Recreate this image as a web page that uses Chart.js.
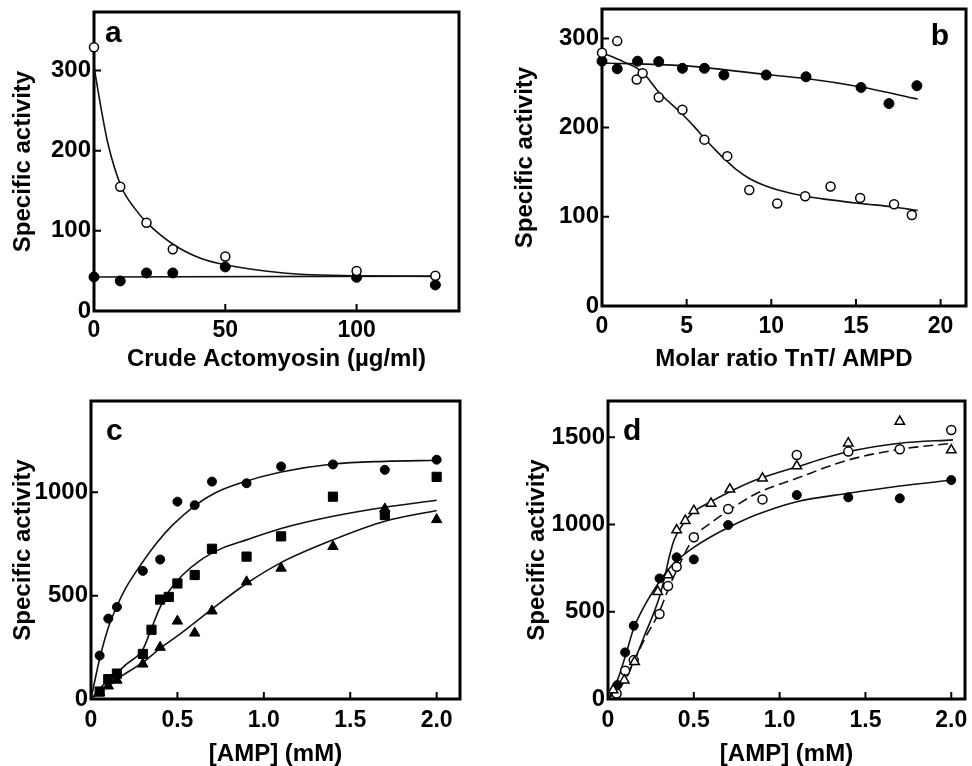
<!DOCTYPE html>
<html lang="en">
<head>
  <meta charset="UTF-8">
  <title>Specific activity panels a-d</title>
  <script src="https://cdn.jsdelivr.net/npm/chart.js"></script>
  <style>
    body { margin: 0; background: #fff; }
    #wrap { position: relative; width: 972px; height: 766px; }
    canvas { position: absolute; }
  </style>
</head>
<body>
<div id="wrap">
  <canvas id="chartA" width="486" height="383" style="left:0;top:0"></canvas>
  <canvas id="chartB" width="486" height="383" style="left:486px;top:0"></canvas>
  <canvas id="chartC" width="486" height="383" style="left:0;top:383px"></canvas>
  <canvas id="chartD" width="486" height="383" style="left:486px;top:383px"></canvas>
</div>
<script>
// ---- panel a : crude actomyosin ----
const aXTicks  = [0, 50, 100];
const aYTicks  = [0, 100, 200, 300];
const aX       = [0, 10, 20, 30, 50, 100, 130];
const aOpen    = [329, 155, 110, 77, 68, 50, 44];
const aFilled  = [42.5, 37.5, 47.5, 47.5, 55, 42, 32.5];
const aFitOpenX   = [0, 2.8, 5.3, 10.4, 15.5, 20.5, 30.7, 40.8, 51, 66, 80, 100, 130];
const aFitOpenY   = [305, 251, 209, 155, 128, 109, 82, 65.5, 57, 49.6, 45.5, 44, 43];
const aFitFilledX = [0, 130];
const aFitFilledY = [42.5, 43.5];

// ---- panel b : molar ratio TnT / AMPD ----
const bXTicks  = [0, 5, 10, 15, 20];
const bYTicks  = [0, 100, 200, 300];
const bFilledX = [0, 0.9, 2.1, 3.35, 4.75, 6.05, 7.2, 9.7, 12.05, 15.3, 16.95, 18.6];
const bFilledY = [274.5, 266, 274.5, 274, 266.5, 266.5, 259, 259, 257, 245, 227, 247];
const bOpenX   = [0, 0.9, 2.05, 2.4, 3.35, 4.75, 6.05, 7.4, 8.7, 10.35, 12, 13.5, 15.25, 17.25, 18.3];
const bOpenY   = [284, 297, 254, 261, 234, 220, 186.5, 168, 130, 115, 123, 134, 121, 114, 102];
const bFitOpenX   = [0, 1.25, 2.4, 3.35, 4.75, 5.5, 6.05, 6.85, 7.4, 8, 8.7, 9.6, 10.4, 12, 13.5, 15.25, 17.25, 18.65];
const bFitOpenY   = [284, 274, 262, 240, 215, 200, 188, 172, 162, 152, 143, 135, 130, 123, 119, 115, 111, 107];
const bFitFilledX = [0, 4.75, 9.7, 12.05, 15.3, 18.65];
const bFitFilledY = [272.5, 269.5, 259.5, 255, 245.5, 232];

// ---- panel c : [AMP] ----
const cXTicks = [0, 0.5, 1, 1.5, 2];
const cYTicks = [0, 500, 1000];
const cCircX = [0.05, 0.1, 0.15, 0.3, 0.4, 0.5, 0.6, 0.7, 0.9, 1.1, 1.4, 1.7, 2.0];
const cCircY = [210, 389, 445, 620, 675, 955, 938, 1052, 1044, 1125, 1135, 1109, 1158];
const cSqX   = [0.05, 0.1, 0.15, 0.3, 0.35, 0.4, 0.45, 0.5, 0.6, 0.7, 0.9, 1.1, 1.4, 1.7, 2.0];
const cSqY   = [36, 96, 123, 218, 335, 481, 494, 559, 600, 727, 689, 787, 979, 890, 1075];
const cTriX  = [0.05, 0.1, 0.15, 0.3, 0.4, 0.5, 0.6, 0.7, 0.9, 1.1, 1.4, 1.7, 2.0];
const cTriY  = [30, 63, 91, 169, 250, 377, 319, 426, 567, 633, 738, 920, 868];
const cFitCircX = [0, 0.05, 0.1, 0.145, 0.2, 0.28, 0.38, 0.47, 0.6, 0.72, 0.86, 1.1, 1.4, 1.7, 2.0];
const cFitCircY = [0, 195, 345, 440, 535, 640, 755, 840, 935, 998, 1044, 1098, 1137, 1150, 1155];
const cFitSqX   = [0, 0.05, 0.1, 0.15, 0.2, 0.3, 0.34, 0.4, 0.45, 0.53, 0.63, 0.76, 0.9, 1.1, 1.4, 1.7, 2.0];
const cFitSqY   = [0, 50, 92, 125, 165, 240, 320, 445, 520, 600, 670, 730, 770, 825, 884, 928, 962];
const cFitTriX  = [0, 0.1, 0.15, 0.3, 0.4, 0.5, 0.6, 0.7, 0.9, 1.1, 1.4, 1.7, 2.0];
const cFitTriY  = [0, 63, 96, 177, 245, 305, 370, 435, 559, 660, 770, 860, 912];

// ---- panel d : [AMP] ----
const dXTicks  = [0, 0.5, 1, 1.5, 2];
const dYTicks  = [0, 500, 1000, 1500];
const dFilledX = [0.055, 0.1, 0.15, 0.3, 0.4, 0.5, 0.7, 1.1, 1.4, 1.7, 2.0];
const dFilledY = [80, 267, 420, 691, 812, 800, 997, 1169, 1156, 1150, 1255];
const dOpenX   = [0.05, 0.1, 0.15, 0.3, 0.35, 0.4, 0.5, 0.7, 0.9, 1.1, 1.4, 1.7, 2.0];
const dOpenY   = [32, 162, 223, 487, 647, 758, 927, 1089, 1144, 1398, 1418, 1431, 1542];
const dTriX    = [0.03, 0.095, 0.155, 0.29, 0.35, 0.4, 0.45, 0.5, 0.6, 0.71, 0.9, 1.1, 1.4, 1.7, 2.0];
const dTriY    = [51, 108, 213, 615, 710, 968, 1022, 1079, 1121, 1202, 1265, 1335, 1466, 1590, 1427];
const dFitTriX = [0, 0.05, 0.1, 0.15, 0.21, 0.3, 0.335, 0.357, 0.385, 0.44, 0.5, 0.6, 0.71, 0.86, 1.1, 1.4, 1.7, 2.01];
const dFitTriY = [0, 70, 127, 213, 357, 586, 720, 815, 911, 1007, 1073, 1131, 1188, 1255, 1331, 1417, 1466, 1485];
const dFitOpenX = [0, 0.055, 0.1, 0.15, 0.21, 0.295, 0.357, 0.404, 0.5, 0.6, 0.71, 0.86, 1.1, 1.4, 1.7, 2.01];
const dFitOpenY = [0, 51, 108, 213, 338, 491, 643, 745, 925, 1010, 1085, 1175, 1265, 1370, 1431, 1466];
const dFitFilledX = [0, 0.055, 0.1, 0.15, 0.21, 0.295, 0.357, 0.404, 0.5, 0.6, 0.71, 0.86, 1.1, 1.4, 1.7, 2.01];
const dFitFilledY = [0, 108, 242, 405, 529, 666, 749, 796, 869, 930, 987, 1054, 1131, 1179, 1221, 1255];

const FONT = "'Liberation Sans', Arial, Helvetica, sans-serif";

function pts(xs, ys) {
  return xs.map((x, i) => ({ x: x, y: ys[i] }));
}

// scatter markers
function marks(xs, ys, style, filled, r) {
  return {
    data: pts(xs, ys),
    showLine: false,
    pointStyle: style,
    pointRadius: r,
    pointBackgroundColor: filled ? '#000' : '#fff',
    pointBorderColor: '#000',
    pointBorderWidth: filled ? 1 : 1.5,
    clip: false
  };
}

// fitted curve, drawn through read-off points
function curve(xs, ys, dashed) {
  return {
    data: pts(xs, ys),
    showLine: true,
    borderColor: '#111',
    borderWidth: 1.6,
    borderDash: dashed ? [10, 5] : [],
    pointRadius: 0,
    cubicInterpolationMode: 'monotone',
    clip: false
  };
}

// box, inward tick marks and the panel letter
const framePlugin = {
  id: 'frame',
  beforeDatasetsDraw(chart, args, opts) {
    const { ctx, chartArea: a, scales: { x, y } } = chart;
    ctx.save();
    ctx.strokeStyle = '#000';
    ctx.lineWidth = 2;
    ctx.beginPath();
    x.ticks.forEach(t => {
      const px = x.getPixelForValue(t.value);
      if (px > a.left + 3 && px < a.right - 3) { ctx.moveTo(px, a.bottom); ctx.lineTo(px, a.bottom - 7); }
    });
    y.ticks.forEach(t => {
      const py = y.getPixelForValue(t.value);
      if (py > a.top + 3 && py < a.bottom - 3) { ctx.moveTo(a.left, py); ctx.lineTo(a.left + 7, py); }
    });
    ctx.stroke();
    ctx.lineWidth = 3;
    ctx.strokeRect(a.left, a.top, a.right - a.left, a.bottom - a.top);
    ctx.fillStyle = '#000';
    ctx.font = 'bold 30px ' + FONT;
    ctx.textAlign = opts.align;
    ctx.textBaseline = 'alphabetic';
    const lx = opts.align === 'right' ? a.right - opts.dx : a.left + opts.dx;
    ctx.fillText(opts.letter, lx, a.top + opts.dy);
    ctx.restore();
  }
};

function fmtX(dec) {
  return v => (v === 0 ? '0' : (dec ? v.toFixed(1) : String(v)));
}

function fixTicks(list) {
  return s => { s.ticks = list.map(v => ({ value: v })); };
}

function makePanel(id, p) {
  return new Chart(document.getElementById(id), {
    type: 'scatter',
    data: { datasets: p.datasets },
    options: {
      responsive: false,
      animation: false,
      events: [],
      layout: { padding: p.pad },
      plugins: {
        legend: { display: false },
        tooltip: { enabled: false },
        frame: p.letter
      },
      scales: {
        x: {
          type: 'linear', min: 0, max: p.xMax,
          grid: { display: false, drawTicks: false },
          border: { display: false },
          afterBuildTicks: fixTicks(p.xTicks),
          ticks: {
            maxRotation: 0, autoSkip: false,
            color: '#000', padding: p.xTickPad,
            font: { family: FONT, size: 23, weight: 'bold' },
            callback: fmtX(p.xDec)
          },
          title: {
            display: true, text: p.xTitle, color: '#000',
            font: { family: FONT, size: 24, weight: 'bold', lineHeight: 1 },
            padding: { top: 0, bottom: p.xTitlePad }
          },
          afterFit: s => { s.height = p.xH; s.paddingLeft = 0; s.paddingRight = 0; }
        },
        y: {
          type: 'linear', min: 0, max: p.yMax,
          grid: { display: false, drawTicks: false },
          border: { display: false },
          afterBuildTicks: fixTicks(p.yTicks),
          ticks: {
            autoSkip: false,
            color: '#000', padding: 3,
            font: { family: FONT, size: 24, weight: 'bold' },
            callback: v => String(v)
          },
          title: {
            display: true, text: 'Specific activity', color: '#000',
            font: { family: FONT, size: 24, weight: 'bold', lineHeight: 1 },
            padding: { top: p.yTitlePad, bottom: 0 }
          },
          afterFit: s => { s.width = p.yW; s.paddingTop = 0; s.paddingBottom = 0; }
        }
      }
    },
    plugins: [framePlugin]
  });
}

makePanel('chartA', {
  pad: { left: 0, right: 27, top: 12, bottom: 0 },
  yW: 94, xH: 72, yTitlePad: 11, xTitlePad: 12, xTickPad: 6,
  xMax: 139, yMax: 373, xTicks: aXTicks, yTicks: aYTicks, xDec: false,
  xTitle: 'Crude Actomyosin (\u00b5g/ml)',
  letter: { letter: 'a', align: 'left', dx: 11, dy: 30 },
  datasets: [
    marks(aX, aOpen, 'circle', false, 4.5),
    marks(aX, aFilled, 'circle', true, 5),
    curve(aFitOpenX, aFitOpenY, false),
    curve(aFitFilledX, aFitFilledY, false)
  ]
});

makePanel('chartB', {
  pad: { left: 0, right: 4, top: 9, bottom: 0 },
  yW: 116, xH: 77, yTitlePad: 27, xTitlePad: 12, xTickPad: 7,
  xMax: 21.5, yMax: 333, xTicks: bXTicks, yTicks: bYTicks, xDec: false,
  xTitle: 'Molar ratio TnT/ AMPD',
  letter: { letter: 'b', align: 'right', dx: 17, dy: 36 },
  datasets: [
    marks(bOpenX, bOpenY, 'circle', false, 4.5),
    marks(bFilledX, bFilledY, 'circle', true, 5),
    curve(bFitOpenX, bFitOpenY, false),
    curve(bFitFilledX, bFitFilledY, false)
  ]
});

makePanel('chartC', {
  pad: { left: 0, right: 26, top: 18, bottom: 0 },
  yW: 91, xH: 67, yTitlePad: 11, xTitlePad: 0, xTickPad: 8,
  xMax: 2.135, yMax: 1442, xTicks: cXTicks, yTicks: cYTicks, xDec: true,
  xTitle: '[AMP] (mM)',
  letter: { letter: 'c', align: 'left', dx: 15, dy: 39 },
  datasets: [
    marks(cCircX, cCircY, 'circle', true, 4.5),
    marks(cSqX, cSqY, 'rect', true, 6.5),
    marks(cTriX, cTriY, 'triangle', true, 6),
    curve(cFitCircX, cFitCircY, false),
    curve(cFitSqX, cFitSqY, false),
    curve(cFitTriX, cFitTriY, false)
  ]
});

makePanel('chartD', {
  pad: { left: 0, right: 1, top: 18, bottom: 0 },
  yW: 122, xH: 67, yTitlePad: 39, xTitlePad: 0, xTickPad: 8,
  xMax: 2.08, yMax: 1708, xTicks: dXTicks, yTicks: dYTicks, xDec: true,
  xTitle: '[AMP] (mM)',
  letter: { letter: 'd', align: 'left', dx: 15, dy: 39 },
  datasets: [
    marks(dTriX, dTriY, 'triangle', false, 5.5),
    marks(dOpenX, dOpenY, 'circle', false, 4.5),
    marks(dFilledX, dFilledY, 'circle', true, 4.5),
    curve(dFitTriX, dFitTriY, false),
    curve(dFitOpenX, dFitOpenY, true),
    curve(dFitFilledX, dFitFilledY, false)
  ]
});
</script>
</body>
</html>
